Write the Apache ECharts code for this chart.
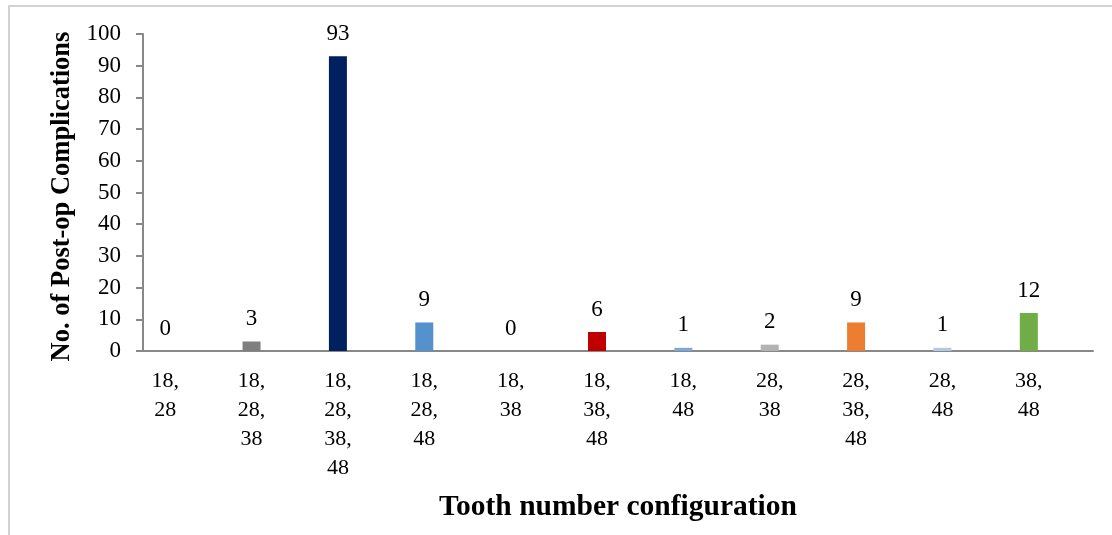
<!DOCTYPE html>
<html>
<head>
<meta charset="utf-8">
<script src="https://cdn.jsdelivr.net/npm/echarts@6/dist/echarts.min.js"></script>
<style>
html,body{margin:0;padding:0;background:#fff;}
#chart{width:1112px;height:535px;}
</style>
</head>
<body>
<div id="chart"></div>
<script>
const categories = ["18,\n28", "18,\n28,\n38", "18,\n28,\n38,\n48", "18,\n28,\n48", "18,\n38", "18,\n38,\n48", "18,\n48", "28,\n38", "28,\n38,\n48", "28,\n48", "38,\n48"];
const complications = [0, 3, 93, 9, 0, 6, 1, 2, 9, 1, 12];
const barColors = ["#7f7f7f", "#7f7f7f", "#002060", "#5591cc", "#7f7f7f", "#c00000", "#7ea7dc", "#b3b3b3", "#ed7d31", "#b4c7e7", "#70ad47"];
const yTicks = { min: 0, max: 100, interval: 10 };
const yTitle = "No. of Post-op Complications";
const xTitle = "Tooth number configuration";

const serif = "'Liberation Serif', 'Times New Roman', serif";
const chart = echarts.init(document.getElementById('chart'), null, { renderer: 'canvas' });

chart.setOption({
  backgroundColor: '#fff',
  animation: false,
  graphic: [{
    type: 'rect', z: -10,
    shape: { x: 9, y: 6, width: 1130, height: 560 },
    style: { fill: 'none', stroke: '#c4c4c4', lineWidth: 1.5 }
  }],
  grid: [
    { left: 122, width: 950, top: 34, height: 317 },
    { left: 143, width: 950, top: 34, height: 317 }
  ],
  xAxis: [
    {
      type: 'category', gridIndex: 0, data: categories,
      axisLine: { show: false }, axisTick: { show: false },
      axisLabel: { fontFamily: serif, fontSize: 22, lineHeight: 29, color: '#000', margin: 16, interval: 0 }
    },
    {
      type: 'category', gridIndex: 1, data: categories,
      axisLine: { show: true, lineStyle: { color: '#888', width: 2 } },
      axisTick: { show: false }, axisLabel: { show: false },
      name: xTitle, nameLocation: 'middle', nameGap: 141,
      nameTextStyle: { fontFamily: serif, fontSize: 29.5, fontWeight: 'bold', color: '#000' }
    }
  ],
  yAxis: [
    { type: 'value', gridIndex: 0, min: yTicks.min, max: yTicks.max, interval: yTicks.interval, show: false, splitLine: { show: false } },
    {
      type: 'value', gridIndex: 1, min: yTicks.min, max: yTicks.max, interval: yTicks.interval,
      axisLine: { show: true, lineStyle: { color: '#888', width: 2 } },
      axisTick: { show: true, inside: false, length: 7, lineStyle: { color: '#888', width: 2 } },
      splitLine: { show: false },
      axisLabel: { fontFamily: serif, fontSize: 23, color: '#000', margin: 22 },
      name: yTitle, nameLocation: 'middle', nameGap: 64,
      nameTextStyle: { fontFamily: serif, fontSize: 26.5, fontWeight: 'bold', color: '#000', padding: [0, 8, 0, 0] }
    }
  ],
  series: [{
    type: 'bar', xAxisIndex: 0, yAxisIndex: 0,
    data: complications.map((v, i) => ({ value: v, itemStyle: { color: barColors[i] } })),
    barWidth: 18,
    label: { show: true, position: 'top', distance: 11, fontFamily: serif, fontSize: 23, color: '#000' }
  }]
});
</script>
</body>
</html>
